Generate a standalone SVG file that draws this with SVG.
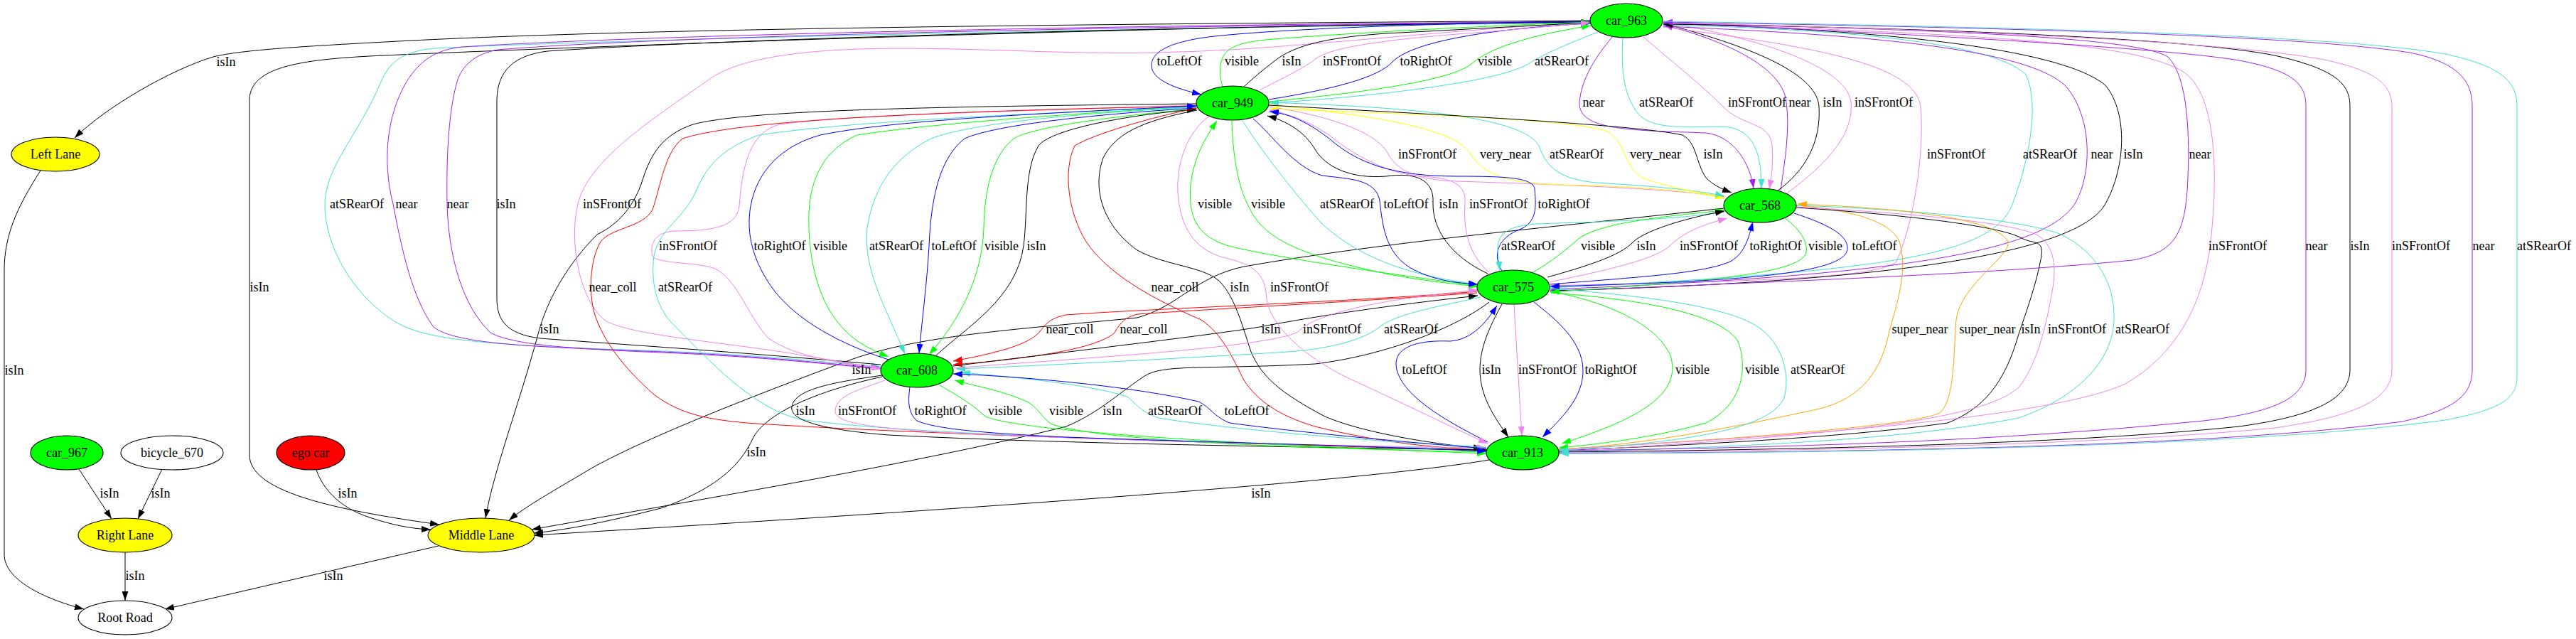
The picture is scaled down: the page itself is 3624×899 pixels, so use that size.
<svg xmlns="http://www.w3.org/2000/svg" width="3624" height="899" viewBox="0 0 3624 899">
<style>
text{font-family:"Liberation Serif","Times New Roman",serif;font-size:18px;text-anchor:middle;fill:#000}
.n ellipse{stroke:#000;stroke-width:1.1}
#connectors path{fill:none;stroke-width:1}
.k{stroke:#000;marker-end:url(#ak)}
.p{stroke:#a020f0;marker-end:url(#ap)}
.t{stroke:#40e0d0;marker-end:url(#at)}
.v{stroke:#ee82ee;marker-end:url(#av)}
.b{stroke:#0000ff;marker-end:url(#ab)}
.g{stroke:#00ff00;marker-end:url(#ag)}
.r{stroke:#ff0000;marker-end:url(#ar)}
.y{stroke:#ffff00;marker-end:url(#ay)}
.o{stroke:#ffa500;marker-end:url(#ao)}
.s{marker-end:none}
.k.s{marker-start:url(#ak)}
.p.s{marker-start:url(#ap)}
.t.s{marker-start:url(#at)}
.v.s{marker-start:url(#av)}
.b.s{marker-start:url(#ab)}
.g.s{marker-start:url(#ag)}
.y.s{marker-start:url(#ay)}
</style>
<defs>
<marker id="ak" viewBox="0 0 13 9" refX="13" refY="4.5" markerWidth="13" markerHeight="9" markerUnits="userSpaceOnUse" orient="auto-start-reverse"><path d="M0,0L13,4.5L0,9z" fill="#000"/></marker>
<marker id="ap" viewBox="0 0 13 9" refX="13" refY="4.5" markerWidth="13" markerHeight="9" markerUnits="userSpaceOnUse" orient="auto-start-reverse"><path d="M0,0L13,4.5L0,9z" fill="#a020f0"/></marker>
<marker id="at" viewBox="0 0 13 9" refX="13" refY="4.5" markerWidth="13" markerHeight="9" markerUnits="userSpaceOnUse" orient="auto-start-reverse"><path d="M0,0L13,4.5L0,9z" fill="#40e0d0"/></marker>
<marker id="av" viewBox="0 0 13 9" refX="13" refY="4.5" markerWidth="13" markerHeight="9" markerUnits="userSpaceOnUse" orient="auto-start-reverse"><path d="M0,0L13,4.5L0,9z" fill="#ee82ee"/></marker>
<marker id="ab" viewBox="0 0 13 9" refX="13" refY="4.5" markerWidth="13" markerHeight="9" markerUnits="userSpaceOnUse" orient="auto-start-reverse"><path d="M0,0L13,4.5L0,9z" fill="#0000ff"/></marker>
<marker id="ag" viewBox="0 0 13 9" refX="13" refY="4.5" markerWidth="13" markerHeight="9" markerUnits="userSpaceOnUse" orient="auto-start-reverse"><path d="M0,0L13,4.5L0,9z" fill="#00ff00"/></marker>
<marker id="ar" viewBox="0 0 13 9" refX="13" refY="4.5" markerWidth="13" markerHeight="9" markerUnits="userSpaceOnUse" orient="auto-start-reverse"><path d="M0,0L13,4.5L0,9z" fill="#ff0000"/></marker>
<marker id="ay" viewBox="0 0 13 9" refX="13" refY="4.5" markerWidth="13" markerHeight="9" markerUnits="userSpaceOnUse" orient="auto-start-reverse"><path d="M0,0L13,4.5L0,9z" fill="#ffff00"/></marker>
<marker id="ao" viewBox="0 0 13 9" refX="13" refY="4.5" markerWidth="13" markerHeight="9" markerUnits="userSpaceOnUse" orient="auto-start-reverse"><path d="M0,0L13,4.5L0,9z" fill="#ffa500"/></marker>
</defs>
<rect width="3624" height="899" fill="#fff"/>
<g id="connectors">
<path class="k" d="M2237,29 C1500,34 900,40 560,58 C430,65 340,70 300,80 C240,98 150,150 105,194"/>
<path class="k" d="M2237,30 C1600,38 900,62 540,78 C430,83 352,92 351,140 L351,640 C351,690 460,716 618,738"/>
<path class="k" d="M1683,146 C1300,150 1050,155 975,175 C930,190 915,220 905,250 C890,300 860,320 840,330 C800,370 770,420 757,470 C730,570 695,660 683,729"/>
<path class="k" d="M2425,293 C2200,318 1950,340 1750,375 C1680,390 1660,430 1600,447 C1450,462 1300,470 1200,505 C1050,560 900,620 830,660 C780,690 740,712 716,732"/>
<path class="k" d="M2095,425 C2050,460 1950,500 1850,512 C1700,520 1640,512 1612,528 C1580,548 1548,580 1500,600 C1300,650 1000,700 748,745"/>
<path class="k" d="M1241,530 C1150,550 1080,580 1060,615 C1040,660 1000,690 930,715 C850,735 800,745 751,750"/>
<path class="k" d="M2095,647 C1900,680 1300,720 751,753"/>
<path class="k" d="M445,661 C455,690 480,715 520,728 C550,738 578,744 606,745"/>
<path class="k" d="M111,660 L157,730"/>
<path class="k" d="M228,660 L194,730"/>
<path class="k" d="M176,777 L176,845"/>
<path class="k" d="M617,768 L232,857"/>
<path class="k" d="M57,240 C25,290 6,330 6,380 L6,780 C6,815 60,842 118,857"/>
<path class="t" d="M2237,32 C1500,40 800,58 612,68 C565,72 548,88 536,115 C505,190 456,235 457,290 C458,350 500,420 560,455 C605,480 700,486 906,493 C1050,498 1150,508 1239,516"/>
<path class="p" d="M2237,30 C1500,36 900,50 650,66 C612,70 590,86 572,115 C545,160 537,225 553,287 C565,350 580,420 610,460 C640,485 760,488 906,494 C1050,499 1150,510 1239,518"/>
<path class="p s" d="M2237,31 C1500,37 900,53 700,70 C668,76 650,92 643,115 C630,160 628,230 629,287 C631,360 650,430 690,468 C720,485 800,490 906,495 C1050,500 1150,511 1239,519"/>
<path class="k s" d="M2237,31 C1600,38 1000,56 770,72 C722,78 700,100 699,140 L699,420 C699,450 712,470 760,476 C850,483 1000,492 1239,513"/>
<path class="v s" d="M2237,31 C2000,45 1800,70 1657,73 C1500,80 1300,60 1154,72 C1080,78 1030,90 1000,110 C930,160 828,222 813,287 C800,340 815,420 850,450 C880,470 1000,480 1100,495 C1160,505 1200,512 1239,518"/>
<path class="b" d="M2237,30 C2050,32 1800,40 1700,52 C1640,60 1620,75 1620,92 C1620,112 1652,124 1690,133"/>
<path class="g" d="M1720,122 C1716,108 1715,95 1719,84 C1725,66 1745,60 1780,56 C1900,46 2100,36 2237,31"/>
<path class="k" d="M1750,122 C1768,105 1785,92 1798,82 C1830,60 1880,52 1950,47 C2050,42 2150,36 2237,32"/>
<path class="b" d="M1785,140 C1860,128 1935,112 1958,88 C1985,58 2100,40 2237,33"/>
<path class="g" d="M1785,143 C1900,132 2040,115 2070,90 C2100,62 2180,45 2238,36"/>
<path class="v" d="M1772,127 C1800,112 1835,96 1852,82 C1875,66 1950,56 2050,48 C2130,42 2190,36 2237,32"/>
<path class="p" d="M2268,52 C2245,80 2225,110 2222,144 C2220,185 2300,183 2400,187 C2440,192 2462,230 2467,265"/>
<path class="t" d="M2283,53 C2281,85 2282,125 2298,150 C2312,180 2350,180 2420,178 C2470,178 2478,220 2478,265"/>
<path class="v" d="M2312,52 C2350,85 2392,118 2422,148 C2452,180 2490,170 2493,205 C2495,230 2492,250 2489,266"/>
<path class="p" d="M2505,268 C2512,220 2518,180 2513,144 C2510,100 2440,60 2340,35"/>
<path class="k" d="M2500,269 C2540,240 2562,200 2559,150 C2556,100 2450,62 2340,33"/>
<path class="v" d="M2514,272 C2570,230 2608,190 2604,144 C2600,100 2500,58 2340,31"/>
<path class="v" d="M2340,38 C2550,65 2695,90 2702,150 C2708,220 2690,320 2668,368 C2640,395 2400,396 2181,402"/>
<path class="t" d="M2340,35 C2550,40 2800,55 2850,105 C2872,150 2850,240 2830,290 C2800,360 2650,382 2181,405"/>
<path class="p" d="M2340,37 C2600,48 2845,65 2905,120 C2942,160 2945,240 2920,285 C2880,350 2700,387 2181,407"/>
<path class="k s" d="M2340,33 C2650,42 2900,68 2962,120 C2995,160 2990,240 2960,290 C2920,350 2700,396 2181,409"/>
<path class="p s" d="M2340,32 C2700,42 3000,50 3050,80 C3080,110 3080,200 3078,250 C3075,330 3060,355 3000,366 C2800,386 2500,396 2181,410"/>
<path class="o" d="M2527,289 C2600,295 2660,310 2672,340 C2685,380 2668,430 2658,465 C2648,520 2620,560 2560,575 C2400,610 2300,625 2193,633"/>
<path class="k" d="M2527,292 C2650,300 2800,315 2840,333 C2860,345 2875,335 2872,360 C2865,400 2850,440 2840,470 C2820,540 2790,575 2740,595 C2600,615 2400,625 2193,634"/>
<path class="v" d="M2527,291 C2650,298 2820,310 2865,330 C2892,345 2893,380 2887,410 C2880,450 2868,510 2840,545 C2790,590 2600,612 2193,635"/>
<path class="t" d="M2527,289 C2700,295 2850,310 2900,330 C2950,355 2976,400 2974,450 C2972,510 2920,560 2840,588 C2700,615 2500,628 2193,636"/>
<path class="o" d="M2193,632 C2400,620 2700,600 2730,580 C2750,560 2748,500 2752,450 C2758,400 2830,360 2825,340 C2810,310 2700,294 2529,287"/>
<path class="v" d="M2340,33 C2800,48 3000,60 3070,100 C3120,130 3120,250 3110,340 C3100,430 3060,500 2990,540 C2880,590 2500,615 2193,632"/>
<path class="p s" d="M2340,32 C2700,48 3050,68 3150,85 C3230,100 3244,120 3244,150 L3244,520 C3244,560 3200,580 3100,592 C2800,622 2500,630 2193,634"/>
<path class="k s" d="M2340,34 C2800,40 3100,58 3200,78 C3290,98 3306,120 3306,150 L3306,520 C3306,560 3260,585 3150,600 C2900,626 2500,633 2193,636"/>
<path class="v" d="M2340,32 C2850,44 3150,62 3270,84 C3345,100 3365,120 3365,150 L3365,520 C3365,560 3320,585 3200,602 C2950,627 2500,635 2193,637"/>
<path class="p s" d="M2340,31 C2900,40 3250,52 3390,74 C3460,88 3478,115 3478,150 L3478,520 C3478,555 3455,576 3380,593 C3100,630 2600,636 2193,638"/>
<path class="t" d="M2340,30 C2950,40 3300,52 3440,76 C3520,93 3541,115 3541,150 L3541,530 C3541,560 3520,576 3440,591 C3150,630 2600,637 2194,638"/>
<path class="v" d="M1785,150 C1850,160 1932,180 1952,215 C1968,245 2000,253 2050,255 C2200,260 2350,265 2426,277"/>
<path class="y" d="M1785,147 C1900,160 2040,175 2068,215 C2088,250 2130,258 2200,260 C2300,262 2380,268 2426,279"/>
<path class="t" d="M1785,144 C1950,150 2140,160 2165,205 C2177,240 2200,255 2260,258 C2330,262 2390,268 2426,276"/>
<path class="y s" d="M1786,153 C1950,160 2200,165 2262,185 C2287,200 2285,235 2310,250 C2350,265 2400,272 2426,278"/>
<path class="k" d="M1785,148 C2000,160 2300,175 2367,190 C2387,200 2386,230 2400,250 C2410,260 2420,265 2436,271"/>
<path class="g" d="M2079,402 C1950,385 1780,360 1725,345 C1680,330 1672,300 1675,260 C1680,220 1695,195 1712,170"/>
<path class="g" d="M1733,170 C1734,210 1740,262 1758,293 C1777,335 1830,360 1950,385 C2000,395 2050,400 2079,403"/>
<path class="t" d="M1748,170 C1780,220 1828,280 1860,315 C1920,370 2000,390 2079,400"/>
<path class="b" d="M1763,167 C1790,190 1820,235 1860,247 C1900,252 1935,252 1941,282 C1945,320 1950,360 1990,380 C2020,395 2050,398 2079,400"/>
<path class="k" d="M2093,385 C2040,360 2015,322 2016,285 C2018,252 1990,242 1950,248 C1900,252 1865,235 1850,210 C1835,185 1810,170 1783,163"/>
<path class="v" d="M2095,383 C2066,360 2058,320 2061,285 C2063,258 2040,250 2000,248 C1950,245 1900,215 1870,190 C1840,170 1812,160 1786,155"/>
<path class="b" d="M2113,381 C2100,360 2105,335 2140,322 C2165,310 2160,285 2159,265 C2155,250 2120,248 2050,248 C1960,248 1910,230 1870,195 C1840,172 1815,160 1786,157"/>
<path class="t" d="M2248,45 C2205,62 2172,76 2153,88 C2110,118 1900,138 1786,145"/>
<path class="v" d="M1683,148 C1500,155 1200,160 1097,175 C1060,185 1045,220 1040,290 C1037,320 1000,325 950,325 C920,326 914,345 918,360 C922,372 990,368 1010,380 C1040,400 1050,440 1080,475 C1120,505 1200,512 1239,519"/>
<path class="g" d="M1683,150 C1500,160 1300,175 1206,190 C1160,210 1140,250 1138,300 C1136,360 1150,420 1180,455 C1200,480 1225,492 1250,502"/>
<path class="t" d="M1683,151 C1500,160 1360,175 1310,195 C1260,220 1230,260 1220,320 C1214,380 1245,430 1273,498"/>
<path class="b" d="M1683,152 C1550,160 1400,175 1357,195 C1325,220 1310,270 1307,346 C1304,400 1297,450 1293,497"/>
<path class="g" d="M1683,153 C1550,165 1450,180 1426,195 C1395,220 1385,270 1384,320 C1382,390 1350,450 1307,499"/>
<path class="k" d="M1317,500 C1360,460 1430,420 1440,346 C1446,300 1440,240 1461,205 C1480,180 1600,160 1683,154"/>
<path class="t" d="M1683,150 C1450,160 1200,170 1068,190 C1010,210 992,240 981,265 C962,310 928,320 920,360 C915,400 925,430 941,450 C1000,510 1060,575 1126,590 C1300,615 1800,625 2091,632"/>
<path class="r" d="M1683,149 C1400,155 1050,165 960,195 C935,215 930,260 918,295 C905,320 860,320 845,340 C830,365 828,410 836,440 C848,480 880,520 920,555 C960,585 1000,590 1050,595 C1300,612 1800,625 2091,634"/>
<path class="r" d="M1684,152 C1620,165 1540,188 1512,205 C1495,240 1503,300 1528,340 C1558,385 1620,420 1690,450 C1720,470 1735,505 1750,535 C1770,565 1800,585 1850,600 C1950,625 2030,630 2091,634"/>
<path class="k" d="M1684,155 C1620,168 1572,182 1552,222 C1535,270 1555,320 1600,352 C1640,374 1690,374 1715,395 C1738,418 1748,460 1760,495 C1775,530 1800,552 1864,586 C1920,610 2020,625 2086,631"/>
<path class="b s" d="M1683,149 C1450,160 1250,170 1154,190 C1100,205 1065,240 1056,290 C1049,330 1060,370 1090,410 C1130,460 1200,490 1250,506"/>
<path class="t" d="M2426,298 C2350,310 2250,312 2160,315 C2120,318 2107,330 2107,350 C2107,362 2109,370 2110,381"/>
<path class="g" d="M2157,383 C2180,370 2205,350 2222,335 C2250,315 2330,305 2426,296"/>
<path class="k" d="M2177,390 C2230,375 2280,360 2298,340 C2318,322 2380,305 2426,297"/>
<path class="v" d="M2180,397 C2260,380 2330,365 2350,345 C2370,325 2400,315 2430,307"/>
<path class="b" d="M2181,400 C2300,390 2400,385 2436,367 C2455,355 2460,335 2466,312"/>
<path class="g" d="M2511,307 C2530,320 2544,340 2541,355 C2535,385 2400,396 2181,411"/>
<path class="b" d="M2524,300 C2570,315 2600,330 2599,350 C2597,385 2450,396 2181,403"/>
<path class="r" d="M2078,410 C1900,425 1600,435 1500,443 C1475,448 1470,458 1464,465 C1450,485 1400,497 1341,508"/>
<path class="r" d="M2078,412 C1900,425 1700,435 1600,442 C1580,447 1574,458 1568,468 C1545,490 1450,505 1341,513"/>
<path class="k" d="M1341,515 C1500,495 1700,472 1772,460 C1850,445 1950,430 2079,416"/>
<path class="t" d="M2083,418 C2030,430 1970,440 1943,458 C1925,475 1880,490 1812,495 C1650,505 1450,515 1345,519"/>
<path class="v" d="M1341,518 C1500,505 1780,490 1826,467 C1850,440 1950,420 2079,408"/>
<path class="b" d="M2093,622 C2040,595 1975,560 1965,520 C1958,490 1990,478 2040,480 C2070,478 2090,455 2106,430"/>
<path class="k" d="M2113,428 C2095,460 2082,490 2082,520 C2082,560 2105,590 2122,615"/>
<path class="v" d="M2130,428 L2141,613"/>
<path class="b" d="M2158,425 C2190,450 2226,480 2227,520 C2228,560 2195,590 2170,615"/>
<path class="g" d="M2182,410 C2260,425 2330,455 2350,500 C2365,550 2320,585 2197,624"/>
<path class="g" d="M2182,412 C2300,420 2420,440 2445,480 C2460,520 2450,570 2400,595 C2330,615 2250,625 2193,630"/>
<path class="t" d="M2181,406 C2300,415 2440,430 2480,465 C2510,490 2518,530 2510,560 C2490,600 2400,620 2193,634"/>
<path class="k" d="M1241,528 C1180,537 1118,546 1114,572 C1110,592 1160,605 1250,612 C1500,625 1900,630 2091,633"/>
<path class="v" d="M1245,535 C1210,548 1176,556 1175,578 C1175,595 1220,600 1300,607 C1550,620 1900,628 2091,630"/>
<path class="g" d="M1322,542 C1345,555 1370,570 1385,585 C1410,600 1600,620 2091,638"/>
<path class="g" d="M2091,636 C1800,630 1550,620 1480,597 C1466,588 1462,576 1447,566 C1412,550 1380,545 1343,535"/>
<path class="t" d="M2091,629 C1900,620 1700,600 1630,588 C1606,580 1600,570 1586,558 C1530,540 1420,530 1352,524"/>
<path class="b" d="M2091,631 C1950,620 1800,605 1730,595 C1707,586 1702,572 1686,565 C1600,545 1450,530 1341,526"/>
<path class="b" d="M1280,545 C1278,560 1276,580 1290,592 C1320,605 1400,610 1500,615 C1700,622 1950,628 2091,635"/>
<path class="v" d="M1702,163 C1670,185 1655,230 1657,270 C1660,320 1680,350 1720,362 C1765,372 1780,385 1782,420 C1786,455 1830,500 1899,533 C1980,570 2040,600 2093,624"/>
</g>
<g id="edge-labels">
<text x="1659" y="92">toLeftOf</text><text x="1747" y="92">visible</text><text x="1817" y="92">isIn</text><text x="1902" y="92">inSFrontOf</text><text x="2006" y="92">toRightOf</text><text x="2103" y="92">visible</text><text x="2197" y="92">atSRearOf</text><text x="318" y="93">isIn</text>
<text x="2242" y="150">near</text><text x="2344" y="150">atSRearOf</text><text x="2472" y="150">inSFrontOf</text><text x="2532" y="150">near</text><text x="2578" y="150">isIn</text><text x="2650" y="150">inSFrontOf</text>
<text x="2008" y="223">inSFrontOf</text><text x="2118" y="223">very_near</text><text x="2218" y="223">atSRearOf</text><text x="2329" y="223">very_near</text><text x="2410" y="223">isIn</text><text x="2752" y="223">inSFrontOf</text><text x="2884" y="223">atSRearOf</text><text x="2957" y="223">near</text><text x="3001" y="223">isIn</text><text x="3095" y="223">near</text>
<text x="502" y="293">atSRearOf</text><text x="572" y="293">near</text><text x="644" y="293">near</text><text x="712" y="293">isIn</text><text x="861" y="293">inSFrontOf</text><text x="1709" y="293">visible</text><text x="1784" y="293">visible</text><text x="1895" y="293">atSRearOf</text><text x="1978" y="293">toLeftOf</text><text x="2038" y="293">isIn</text><text x="2108" y="293">inSFrontOf</text><text x="2200" y="293">toRightOf</text>
<text x="968" y="352">inSFrontOf</text><text x="1097" y="352">toRightOf</text><text x="1168" y="352">visible</text><text x="1261" y="352">atSRearOf</text><text x="1342" y="352">toLeftOf</text><text x="1409" y="352">visible</text><text x="1458" y="352">isIn</text><text x="2150" y="352">atSRearOf</text><text x="2248" y="352">visible</text><text x="2316" y="352">isIn</text><text x="2404" y="352">inSFrontOf</text><text x="2498" y="352">toRightOf</text><text x="2568" y="352">visible</text><text x="2637" y="352">toLeftOf</text><text x="3148" y="352">inSFrontOf</text><text x="3259" y="352">near</text><text x="3320" y="352">isIn</text><text x="3406" y="352">inSFrontOf</text><text x="3494" y="352">near</text><text x="3579" y="352">atSRearOf</text>
<text x="365" y="410">isIn</text><text x="862" y="410">near_coll</text><text x="964" y="410">atSRearOf</text><text x="1653" y="410">near_coll</text><text x="1744" y="410">isIn</text><text x="1828" y="410">inSFrontOf</text>
<text x="773" y="469">isIn</text><text x="1505" y="469">near_coll</text><text x="1609" y="469">near_coll</text><text x="1788" y="469">isIn</text><text x="1874" y="469">inSFrontOf</text><text x="1985" y="469">atSRearOf</text><text x="2701" y="469">super_near</text><text x="2796" y="469">super_near</text><text x="2857" y="469">isIn</text><text x="2922" y="469">inSFrontOf</text><text x="3014" y="469">atSRearOf</text>
<text x="1212" y="526">isIn</text><text x="2004" y="526">toLeftOf</text><text x="2098" y="526">isIn</text><text x="2177" y="526">inSFrontOf</text><text x="2266" y="526">toRightOf</text><text x="2381" y="526">visible</text><text x="2479" y="526">visible</text><text x="2557" y="526">atSRearOf</text><text x="20" y="527">isIn</text>
<text x="1133" y="584">isIn</text><text x="1220" y="584">inSFrontOf</text><text x="1323" y="584">toRightOf</text><text x="1414" y="584">visible</text><text x="1500" y="584">visible</text><text x="1565" y="584">isIn</text><text x="1653" y="584">atSRearOf</text><text x="1754" y="584">toLeftOf</text>
<text x="1064" y="642">isIn</text>
<text x="154" y="700">isIn</text><text x="226" y="700">isIn</text><text x="489" y="700">isIn</text><text x="1774" y="700">isIn</text>
<text x="190" y="816">isIn</text><text x="469" y="816">isIn</text>
</g>
<g id="car_963" class="n"><ellipse cx="2288" cy="29" rx="51" ry="24" fill="#00ff00"/><text x="2288" y="35">car_963</text></g>
<g id="car_949" class="n"><ellipse cx="1734" cy="145" rx="51" ry="24" fill="#00ff00"/><text x="1734" y="151">car_949</text></g>
<g id="car_568" class="n"><ellipse cx="2476" cy="289" rx="51" ry="24" fill="#00ff00"/><text x="2476" y="295">car_568</text></g>
<g id="car_575" class="n"><ellipse cx="2129" cy="404" rx="51" ry="24" fill="#00ff00"/><text x="2129" y="410">car_575</text></g>
<g id="car_608" class="n"><ellipse cx="1290" cy="521" rx="51" ry="24" fill="#00ff00"/><text x="1290" y="527">car_608</text></g>
<g id="car_913" class="n"><ellipse cx="2142" cy="637" rx="51" ry="24" fill="#00ff00"/><text x="2142" y="643">car_913</text></g>
<g id="left_lane" class="n"><ellipse cx="78" cy="217" rx="62" ry="24" fill="#ffff00"/><text x="78" y="223">Left Lane</text></g>
<g id="car_967" class="n"><ellipse cx="94" cy="637" rx="51" ry="24" fill="#00ff00"/><text x="94" y="643">car_967</text></g>
<g id="bicycle_670" class="n"><ellipse cx="242" cy="637" rx="72" ry="24" fill="#ffffff"/><text x="242" y="643">bicycle_670</text></g>
<g id="ego_car" class="n"><ellipse cx="437" cy="637" rx="48" ry="24" fill="#ff0000"/><text x="437" y="643">ego car</text></g>
<g id="right_lane" class="n"><ellipse cx="176" cy="753" rx="66" ry="24" fill="#ffff00"/><text x="176" y="759">Right Lane</text></g>
<g id="middle_lane" class="n"><ellipse cx="677" cy="753" rx="75" ry="24" fill="#ffff00"/><text x="677" y="759">Middle Lane</text></g>
<g id="root_road" class="n"><ellipse cx="176" cy="869" rx="66" ry="24" fill="#ffffff"/><text x="176" y="875">Root Road</text></g>
</svg>
